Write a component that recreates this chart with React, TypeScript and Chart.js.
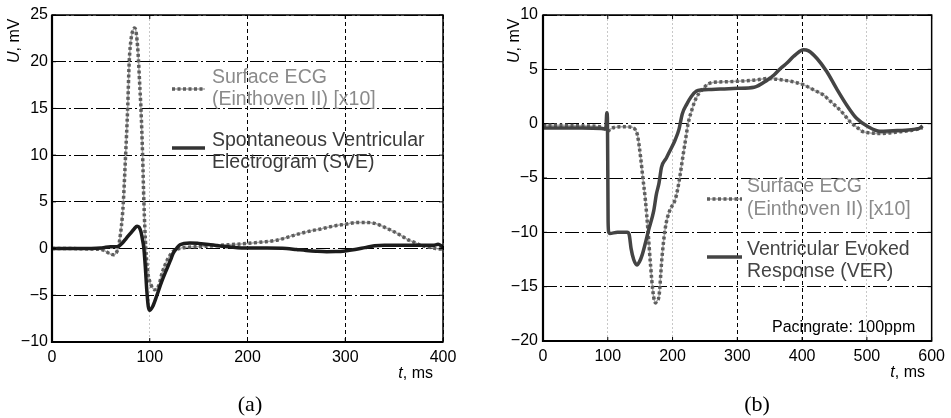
import React, { useEffect, useRef } from "react";
import { Chart, registerables } from "chart.js";

Chart.register(...registerables);

// ---------- Panel (a): spontaneous beat ----------
const ecgA_t = [0, 20, 40, 50, 55, 60, 63, 66, 68, 70, 72, 73, 75.3, 77.4, 79, 81, 83, 84.5, 86, 88, 90, 91, 92.7, 94, 96, 98, 101, 105, 109, 113, 118, 124, 130, 140, 150, 165, 180, 200, 215, 230, 250, 265, 275, 290, 300, 312, 320, 330, 342, 350, 357, 365, 370, 377, 383, 390, 397, 400];
const ecgA_v = [0, 0, -0.05, -0.1, -0.3, -0.6, -0.65, -0.4, 0.2, 1.5, 3.5, 5, 10, 15, 20, 22.5, 23.4, 23.6, 23.2, 21, 17, 15, 10, 5, 0, -2.5, -3.8, -4.4, -4, -2.5, -1.2, -0.3, 0, 0.15, 0.2, 0.3, 0.4, 0.55, 0.7, 0.9, 1.5, 1.9, 2.1, 2.45, 2.6, 2.8, 2.8, 2.7, 2.2, 1.8, 1.4, 0.9, 0.7, 0.35, 0.2, 0.05, -0.05, 0];

const sveA_t = [0, 20, 40, 50, 55, 60, 65, 68, 72, 76, 80, 84, 87, 89, 91, 92.5, 94, 95.5, 97, 98.5, 100, 103, 107, 112, 117, 121, 124, 128, 131, 141, 150, 160, 170, 180, 200, 220, 240, 250, 260, 270, 281, 290, 300, 310, 320, 330, 340, 350, 370, 390, 395, 398, 400];
const sveA_v = [0, 0, 0, 0.05, 0.15, 0.2, 0.2, 0.25, 0.6, 1.1, 1.6, 2.1, 2.4, 2.3, 1.8, 1.0, 0, -2, -4.5, -6.2, -6.6, -6.2, -5.1, -3.6, -2.3, -1.3, -0.5, 0.1, 0.4, 0.6, 0.55, 0.45, 0.3, 0.2, 0.05, 0.05, 0, -0.1, -0.2, -0.28, -0.33, -0.32, -0.25, -0.1, 0.1, 0.3, 0.35, 0.35, 0.35, 0.35, 0.45, 0.3, 0.1];

const xTicksA = [0, 100, 200, 300, 400];
const yTicksA = [-10, -5, 0, 5, 10, 15, 20, 25];

// ---------- Panel (b): paced beat ----------
const ecgB_t = [0, 30, 60, 90, 96, 100, 104, 110, 122, 138, 143, 146, 150.5, 154, 158, 162, 166, 170, 173.6, 176, 179, 183.7, 188.8, 195, 204, 208, 212, 216, 220, 224, 230, 236, 245, 260, 280, 300, 325, 347, 372, 390, 403, 418, 433, 443, 453, 464, 474, 484, 494, 505, 520, 535, 550, 570, 586];
const ecgB_v = [-0.15, -0.15, -0.2, -0.3, -0.5, -0.7, -0.5, -0.35, -0.28, -0.34, -0.6, -1.1, -3.0, -4.9, -7.0, -9.8, -13.0, -15.6, -16.5, -16.3, -15.9, -12.3, -9.6, -8.1, -7.0, -6.0, -4.6, -3.0, -1.5, 0, 1.3, 2.3, 3.1, 3.77, 3.85, 3.9, 4.0, 4.15, 4.0, 3.8, 3.56, 3.1, 2.64, 2.1, 1.56, 0.9, 0.18, -0.3, -0.74, -0.85, -0.9, -0.85, -0.74, -0.6, -0.37];

const verB_t = [0, 30, 60, 90, 97, 98.5, 99.5, 100.5, 101.5, 103, 115, 130, 133, 136, 140, 145, 149, 153, 158, 163, 171, 175, 179, 183, 190, 196, 204, 210, 215, 222, 229, 237, 245, 260, 280, 300, 326, 346, 357, 367, 377, 387, 395, 402, 410, 423, 438, 453, 469, 484, 502, 520, 540, 560, 575, 582, 586];
const verB_v = [-0.4, -0.4, -0.4, -0.45, -0.5, 1.0, 0.5, -9.0, -10, -10.1, -10, -10, -10.2, -11.5, -12.5, -13.0, -12.7, -12.1, -11.0, -9.8, -8.0, -6.5, -5.5, -4.0, -3.2, -2.5, -1.5, -0.5, 0.9, 1.8, 2.5, 3.0, 3.1, 3.15, 3.2, 3.25, 3.35, 4.0, 4.5, 5.1, 5.6, 6.2, 6.6, 6.8, 6.7, 6.0, 4.8, 3.25, 1.7, 0.5, -0.28, -0.7, -0.65, -0.6, -0.5, -0.4, -0.2];

const xTicksB = [0, 100, 200, 300, 400, 500, 600];
const yTicksB = [-20, -15, -10, -5, 0, 5, 10];

const FONT = '"Liberation Sans", Arial, Helvetica, sans-serif';
const SERIF = '"Liberation Serif", "Times New Roman", serif';

const pts = (t: number[], v: number[]) => t.map((x, i) => ({ x, y: v[i] }));
const minus = (v: number) => String(v).replace("-", "\u2212");

type LegendItem = {
  lines: string[];
  color: string;
  style: "ecg" | "solid";
  lineColor: string;
  sampleY: number;
  textY: number[];
};

type PanelSpec = {
  left: number;
  width: number;
  xMax: number;
  yMin: number;
  yMax: number;
  xTicks: number[];
  yTicks: number[];
  grayX: number[];
  yAxisWidth: number;
  xAxisHeight: number;
  padRight: number;
  yTickPad: number;
  datasets: any[];
  yLabel: { x: number; y: number };
  xLabel: { x: number; y: number };
  caption: { text: string; x: number; y: number };
  legend: { x0: number; x1: number; tx: number; items: LegendItem[] };
  note?: { text: string; x: number; y: number };
};

function drawEcgSample(ctx: CanvasRenderingContext2D, x0: number, x1: number, y: number) {
  ctx.setLineDash([]);
  ctx.strokeStyle = "#a9a9a9";
  ctx.lineWidth = 1.5;
  ctx.beginPath();
  ctx.moveTo(x0, y);
  ctx.lineTo(x1, y);
  ctx.stroke();
  ctx.setLineDash([3, 2.5]);
  ctx.strokeStyle = "#5e5e5e";
  ctx.lineWidth = 3.5;
  ctx.beginPath();
  ctx.moveTo(x0, y);
  ctx.lineTo(x1, y);
  ctx.stroke();
  ctx.setLineDash([]);
}

function decorPlugin(spec: PanelSpec) {
  return {
    id: "decor",
    afterDraw(chart: any) {
      const { ctx, chartArea: a, scales } = chart;
      ctx.save();
      // frame
      ctx.setLineDash([]);
      ctx.strokeStyle = "#000";
      ctx.lineWidth = 1.5;
      ctx.strokeRect(a.left, a.top, a.right - a.left, a.bottom - a.top);
      ctx.lineWidth = 2.2;
      ctx.beginPath();
      ctx.moveTo(a.left, a.top);
      ctx.lineTo(a.left, a.bottom);
      ctx.lineTo(a.right, a.bottom);
      ctx.stroke();
      // inward tick marks
      ctx.lineWidth = 1;
      ctx.beginPath();
      spec.xTicks.forEach((v) => {
        const px = scales.x.getPixelForValue(v);
        ctx.moveTo(px, a.bottom);
        ctx.lineTo(px, a.bottom - 4);
        ctx.moveTo(px, a.top);
        ctx.lineTo(px, a.top + 4);
      });
      spec.yTicks.forEach((v) => {
        const py = scales.y.getPixelForValue(v);
        ctx.moveTo(a.left, py);
        ctx.lineTo(a.left + 4, py);
        ctx.moveTo(a.right, py);
        ctx.lineTo(a.right - 4, py);
      });
      ctx.stroke();

      // legend
      const lg = spec.legend;
      lg.items.forEach((it) => {
        if (it.style === "ecg") {
          drawEcgSample(ctx, lg.x0, lg.x1, it.sampleY);
        } else {
          ctx.strokeStyle = it.lineColor;
          ctx.lineWidth = 3.5;
          ctx.beginPath();
          ctx.moveTo(lg.x0, it.sampleY);
          ctx.lineTo(lg.x1, it.sampleY);
          ctx.stroke();
        }
        ctx.fillStyle = it.color;
        ctx.font = `19.5px ${FONT}`;
        ctx.textAlign = "left";
        ctx.textBaseline = "middle";
        it.lines.forEach((ln, i) => ctx.fillText(ln, lg.tx, it.textY[i]));
      });

      // note
      if (spec.note) {
        ctx.fillStyle = "#000";
        ctx.font = `16px ${FONT}`;
        ctx.textAlign = "left";
        ctx.textBaseline = "middle";
        ctx.fillText(spec.note.text, spec.note.x, spec.note.y);
      }

      // x label: "t, ms" right aligned
      ctx.fillStyle = "#000";
      ctx.textBaseline = "middle";
      ctx.textAlign = "left";
      ctx.font = `16px ${FONT}`;
      const restW = ctx.measureText(", ms").width;
      ctx.font = `italic 16px ${FONT}`;
      const tW = ctx.measureText("t").width;
      const xs = spec.xLabel.x - restW - tW;
      ctx.fillText("t", xs, spec.xLabel.y);
      ctx.font = `16px ${FONT}`;
      ctx.fillText(", ms", xs + tW, spec.xLabel.y);

      // caption
      ctx.font = `22px ${SERIF}`;
      ctx.textAlign = "center";
      ctx.fillText(spec.caption.text, spec.caption.x, spec.caption.y);

      // y label (rotated)
      ctx.translate(spec.yLabel.x, spec.yLabel.y);
      ctx.rotate(-Math.PI / 2);
      ctx.textAlign = "left";
      ctx.font = `italic 16px ${FONT}`;
      ctx.fillText("U", 0, 0);
      const uW = ctx.measureText("U").width;
      ctx.font = `16px ${FONT}`;
      ctx.fillText(", mV", uW, 0);
      ctx.restore();
    },
  };
}

function Panel({ spec }: { spec: PanelSpec }) {
  const ref = useRef<HTMLCanvasElement>(null);
  useEffect(() => {
    if (!ref.current) return;
    const isGray = (v: number) => spec.grayX.includes(v);
    const chart = new Chart(ref.current, {
      type: "line",
      data: { datasets: spec.datasets },
      options: {
        animation: false,
        responsive: false,
        devicePixelRatio: 1,
        layout: { padding: { left: 0, top: 15, right: spec.padRight, bottom: 0 } },
        plugins: { legend: { display: false }, tooltip: { enabled: false } },
        elements: { point: { radius: 0 } },
        scales: {
          x: {
            type: "linear",
            min: 0,
            max: spec.xMax,
            afterFit: (s: any) => {
              s.height = spec.xAxisHeight;
            },
            afterBuildTicks: (s: any) => {
              s.ticks = spec.xTicks.map((v) => ({ value: v }));
            },
            ticks: {
              autoSkip: false,
              maxRotation: 0,
              padding: 6,
              color: "#000",
              font: { family: FONT, size: 16 },
            },
            grid: {
              drawTicks: false,
              lineWidth: 1,
              color: (c: any) => (c.tick && isGray(c.tick.value) ? "#c8c8c8" : "#000"),
            },
            border: {
              display: false,
              dash: (c: any) => (c.tick && isGray(c.tick.value) ? [2, 2] : [4, 3]),
            },
          },
          y: {
            type: "linear",
            min: spec.yMin,
            max: spec.yMax,
            afterFit: (s: any) => {
              s.width = spec.yAxisWidth;
            },
            afterBuildTicks: (s: any) => {
              s.ticks = spec.yTicks.map((v) => ({ value: v }));
            },
            ticks: {
              padding: spec.yTickPad,
              color: "#000",
              font: { family: FONT, size: 16 },
              callback: (v: any) => minus(Number(v)),
            },
            grid: { drawTicks: false, lineWidth: 1, color: "#000" },
            border: { display: false, dash: [14, 3, 2, 3] },
          },
        },
      } as any,
      plugins: [decorPlugin(spec)],
    });
    return () => chart.destroy();
  }, [spec]);
  return (
    <canvas
      ref={ref}
      width={spec.width}
      height={418}
      style={{ position: "absolute", left: spec.left, top: 0, width: spec.width, height: 418 }}
    />
  );
}

const ecgStyle = (data: any) => [
  {
    label: "ecg-base",
    data,
    borderColor: "#a9a9a9",
    borderWidth: 1.5,
    cubicInterpolationMode: "monotone",
    order: 3,
  },
  {
    label: "Surface ECG (Einthoven II) [x10]",
    data,
    borderColor: "#5e5e5e",
    borderWidth: 3.5,
    borderDash: [3, 2.5],
    cubicInterpolationMode: "monotone",
    order: 2,
  },
];

const specA: PanelSpec = {
  left: 0,
  width: 475,
  xMax: 400,
  yMin: -10,
  yMax: 25,
  xTicks: xTicksA,
  yTicks: yTicksA,
  grayX: [100],
  yAxisWidth: 52,
  xAxisHeight: 76,
  padRight: 32,
  yTickPad: 4,
  datasets: [
    ...ecgStyle(pts(ecgA_t, ecgA_v)),
    {
      label: "Spontaneous Ventricular Electrogram (SVE)",
      data: pts(sveA_t, sveA_v),
      borderColor: "#1c1c1c",
      borderWidth: 3.5,
      cubicInterpolationMode: "monotone",
      order: 1,
    },
  ],
  yLabel: { x: 15, y: 63 },
  xLabel: { x: 433, y: 374 },
  caption: { text: "(a)", x: 250, y: 405 },
  legend: {
    x0: 172,
    x1: 205,
    tx: 212,
    items: [
      { lines: ["Surface ECG", "(Einthoven II) [x10]"], color: "#8a8a8a", style: "ecg", lineColor: "#5e5e5e", sampleY: 89, textY: [78, 100] },
      { lines: ["Spontaneous Ventricular", "Electrogram (SVE)"], color: "#3a3a3a", style: "solid", lineColor: "#333", sampleY: 148, textY: [141, 163] },
    ],
  },
};

const specB: PanelSpec = {
  left: 475,
  width: 476,
  xMax: 600,
  yMin: -20,
  yMax: 10,
  xTicks: xTicksB,
  yTicks: yTicksB,
  grayX: [100, 200, 500],
  yAxisWidth: 68,
  xAxisHeight: 77,
  padRight: 15,
  yTickPad: 5,
  datasets: [
    ...ecgStyle(pts(ecgB_t, ecgB_v)),
    {
      label: "Ventricular Evoked Response (VER)",
      data: pts(verB_t, verB_v),
      borderColor: "#444444",
      borderWidth: 3.5,
      cubicInterpolationMode: "monotone",
      order: 1,
    },
  ],
  yLabel: { x: 40, y: 63 },
  xLabel: { x: 450, y: 373 },
  caption: { text: "(b)", x: 282, y: 405 },
  legend: {
    x0: 232,
    x1: 267,
    tx: 272,
    items: [
      { lines: ["Surface ECG", "(Einthoven II) [x10]"], color: "#8a8a8a", style: "ecg", lineColor: "#5e5e5e", sampleY: 199, textY: [187, 210] },
      { lines: ["Ventricular Evoked", "Response (VER)"], color: "#444", style: "solid", lineColor: "#444", sampleY: 257, textY: [250, 272] },
    ],
  },
  note: { text: "Pacingrate: 100ppm", x: 297, y: 328 },
};

export default function App() {
  return (
    <div style={{ position: "absolute", left: 0, top: 0, width: 951, height: 418, background: "#fff" }}>
      <Panel spec={specA} />
      <Panel spec={specB} />
    </div>
  );
}
